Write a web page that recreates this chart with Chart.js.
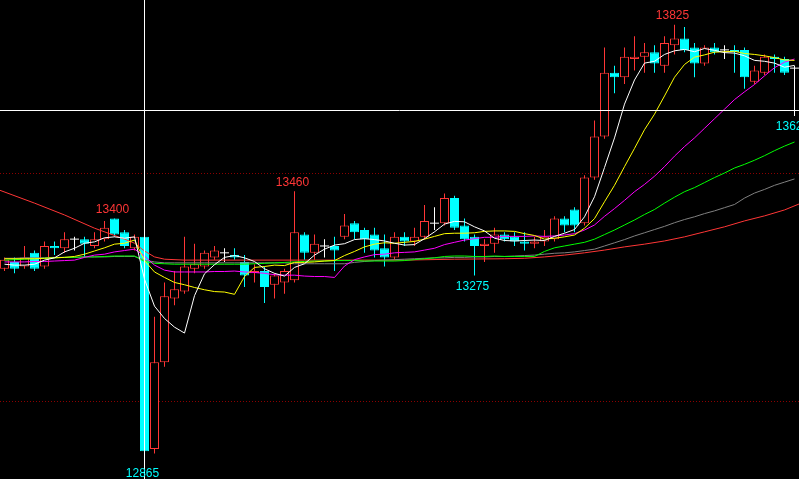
<!DOCTYPE html>
<html>
<head>
<meta charset="utf-8">
<script src="https://cdn.jsdelivr.net/npm/chart.js@4.4.1/dist/chart.umd.min.js"></script>
<style>
html,body{margin:0;padding:0;background:#000;overflow:hidden;}
</style>
</head>
<body>
<canvas id="kline" width="799" height="479"></canvas>
<script>
// candles, one per bar index 0..79
var openP  = [13290,13305,13295,13325,13295,13340,13335,13355,13355,13340,13355,13400,13370,13335,13360,12895,13085,13225,13240,13290,
              13295,13315,13325,13320,13305,13280,13285,13255,13260,13265,13365,13325,13340,13340,13360,13390,13375,13365,13335,13315,
              13360,13350,13360,13390,13390,13445,13385,13360,13340,13345,13365,13360,13350,13345,13350,13355,13400,13420,13390,13490,
              13580,13720,13710,13750,13755,13765,13735,13780,13795,13775,13740,13775,13770,13770,13770,13700,13720,13755,13750,13730];
var highP  = [13315,13315,13340,13330,13350,13350,13370,13360,13360,13370,13395,13400,13375,13365,13365,13185,13260,13285,13360,13345,
              13330,13340,13335,13335,13320,13300,13295,13280,13290,13460,13370,13365,13355,13360,13410,13395,13380,13380,13365,13370,
              13370,13380,13430,13425,13455,13450,13400,13365,13355,13380,13370,13370,13370,13360,13375,13405,13405,13425,13495,13615,
              13775,13735,13775,13800,13785,13780,13800,13825,13820,13785,13780,13785,13780,13780,13775,13735,13760,13760,13755,13735];
var lowP   = [13285,13280,13290,13285,13290,13320,13325,13330,13315,13335,13350,13360,13335,13330,12865,12885,13075,13210,13235,13280,
              13290,13310,13305,13310,13250,13260,13215,13225,13235,13260,13310,13310,13315,13285,13355,13355,13325,13315,13295,13310,
              13340,13340,13355,13375,13385,13375,13350,13275,13305,13325,13350,13340,13330,13335,13340,13350,13370,13370,13385,13485,
              13575,13675,13695,13725,13720,13720,13720,13760,13765,13710,13735,13760,13750,13720,13685,13695,13715,13720,13715,13625];
var closeP = [13310,13290,13315,13290,13340,13335,13355,13355,13345,13355,13380,13365,13340,13360,12890,13085,13230,13245,13295,13300,
              13325,13330,13325,13315,13275,13285,13250,13275,13285,13370,13325,13345,13340,13330,13385,13370,13355,13330,13315,13360,
              13350,13360,13395,13390,13445,13380,13355,13340,13345,13365,13355,13350,13345,13350,13360,13400,13385,13385,13490,13580,
              13720,13710,13755,13755,13765,13740,13785,13795,13770,13740,13775,13765,13770,13765,13710,13725,13755,13750,13720,13730];

// moving average lines
var ma5  = [13300,13298,13298,13300,13309,13314,13327,13335,13346,13349,13358,13360,13357,13360,13267,13208,13181,13162,13149,13231,
            13279,13299,13315,13319,13314,13306,13290,13280,13274,13293,13301,13320,13333,13342,13345,13354,13356,13354,13351,13346,
            13342,13343,13356,13371,13388,13394,13393,13382,13373,13357,13352,13351,13352,13353,13352,13361,13368,13376,13404,13448,
            13512,13577,13651,13704,13741,13745,13760,13768,13771,13766,13773,13769,13764,13763,13757,13747,13745,13741,13732,13736];
var ma10 = [13312,13312,13312,13312,13313,13314,13315,13317,13322,13329,13336,13344,13346,13353,13308,13283,13271,13260,13255,13249,
            13244,13240,13239,13234,13273,13293,13295,13298,13297,13304,13304,13305,13307,13308,13319,13328,13338,13344,13347,13346,
            13348,13350,13355,13361,13367,13368,13368,13369,13372,13373,13373,13372,13367,13363,13355,13357,13360,13364,13379,13400,
            13437,13473,13514,13554,13595,13629,13669,13710,13738,13754,13759,13765,13766,13767,13762,13760,13757,13753,13748,13747];
var ma20 = [13305,13305,13305,13306,13306,13307,13308,13309,13315,13320,13322,13327,13330,13333,13318,13298,13287,13283,13283,13283,
            13283,13284,13284,13285,13283,13282,13280,13277,13276,13276,13274,13273,13273,13271,13296,13310,13316,13321,13322,13325,
            13326,13327,13331,13335,13343,13348,13353,13356,13359,13359,13361,13361,13361,13362,13361,13362,13364,13367,13375,13386,
            13405,13422,13440,13459,13475,13493,13514,13537,13558,13577,13598,13619,13640,13661,13678,13694,13713,13731,13743,13750];
var ma40 = [13309,13310,13311,13312,13313,13314,13315,13315,13316,13316,13317,13318,13318,13318,13306,13302,13301,13300,13300,13300,
            13300,13300,13300,13300,13300,13301,13302,13303,13304,13305,13306,13307,13307,13308,13308,13308,13307,13307,13307,13307,
            13308,13310,13312,13314,13317,13318,13318,13317,13317,13318,13317,13317,13317,13317,13328,13336,13340,13344,13348,13355,
            13365,13375,13386,13397,13409,13420,13434,13447,13459,13468,13479,13490,13500,13511,13519,13528,13538,13549,13559,13568];
var ma60 = [13313,13313,13314,13314,13314,13315,13315,13315,13316,13316,13316,13317,13317,13317,13309,13305,13303,13303,13303,13303,
            13303,13303,13303,13303,13303,13303,13303,13303,13303,13301,13301,13301,13301,13301,13301,13304,13306,13308,13309,13310,
            13311,13312,13313,13314,13314,13315,13315,13316,13316,13317,13317,13318,13319,13320,13322,13324,13325,13327,13330,13333,
            13340,13347,13354,13362,13369,13376,13383,13391,13398,13404,13411,13417,13424,13431,13445,13456,13464,13473,13480,13487];
// slow red line, read at these bar indexes only
var ma80Idx = [-0.45,3,6,9,12,13,14,15,16,18,30,40,45,50,52,54,56,58,60,62,64,66,68,70,72,74,76,78,79.45];
var ma80    = [13462,13434,13408,13379,13355,13346,13329,13316,13311,13309,13309,13309,13311,13312,13313,13316,13320,13325,13331,13338,
               13344,13351,13360,13371,13382,13395,13406,13419,13432];

// high / low price marks
var markIdx   = [11,29,67,14,47,79];
var markPrice = [13400,13460,13825,12865,13275,13625];
var markHigh  = [true,true,true,false,false,false];

var gridLevels = [13000,13500];
var crossIdx = 14;
var crossPrice = 13637;

var UP = '#ff3636', DOWN = '#00ffff', FLAT = '#ffffff';

var wicks = [], bodies = [], dojis = [];
var wickColors = [], bodyFill = [], bodyLine = [];
for (var i = 0; i < closeP.length; i++) {
    var o = openP[i], c = closeP[i];
    var col = c > o ? UP : (c < o ? DOWN : FLAT);
    wicks.push({x: i, y: [lowP[i], highP[i]]});
    wickColors.push(col);
    if (c == o) {
        dojis.push({x: i, y: c});
        bodies.push({x: i, y: null});
    } else {
        bodies.push({x: i, y: [Math.min(o, c), Math.max(o, c)]});
    }
    bodyFill.push(c > o ? '#000000' : DOWN);
    bodyLine.push(col);
}

function maLine(vals, color, order) {
    return {
        type: 'line',
        data: vals.map(function (v, k) { return {x: k, y: v}; }),
        borderColor: color,
        borderWidth: 1,
        pointRadius: 0,
        tension: 0,
        order: order
    };
}

var overlay = {
    id: 'overlay',
    beforeDatasetsDraw: function (chart) {
        var ctx = chart.ctx, y = chart.scales.y, a = chart.chartArea;
        ctx.save();
        ctx.strokeStyle = '#8c0000';
        ctx.lineWidth = 1;
        ctx.setLineDash([1, 2]);
        gridLevels.forEach(function (v) {
            var py = Math.round(y.getPixelForValue(v)) + 0.5;
            ctx.beginPath();
            ctx.moveTo(a.left, py);
            ctx.lineTo(a.right, py);
            ctx.stroke();
        });
        ctx.restore();
    },
    afterDatasetsDraw: function (chart) {
        var ctx = chart.ctx, x = chart.scales.x, y = chart.scales.y, a = chart.chartArea;
        ctx.save();
        //crosshair
        ctx.strokeStyle = '#ffffff';
        ctx.lineWidth = 1;
        var cx = Math.floor(x.getPixelForValue(crossIdx)) + 0.5;
        var cy = Math.floor(y.getPixelForValue(crossPrice)) + 0.5;
        ctx.beginPath();
        ctx.moveTo(cx, a.top); ctx.lineTo(cx, a.bottom);
        ctx.moveTo(a.left, cy); ctx.lineTo(a.right, cy);
        ctx.stroke();
        //marks
        ctx.font = '12px "Liberation Sans", Arial, sans-serif';
        ctx.textAlign = 'center';
        ctx.textBaseline = 'middle';
        for (var m = 0; m < markIdx.length; m++) {
            var px = x.getPixelForValue(markIdx[m]) - 2;
            var py = y.getPixelForValue(markPrice[m]);
            ctx.fillStyle = markHigh[m] ? UP : DOWN;
            ctx.fillText(String(markPrice[m]), px, markHigh[m] ? py - 9 : py + 11);
        }
        ctx.restore();
    }
};

new Chart(document.getElementById('kline'), {
    type: 'bar',
    data: {
        datasets: [
            maLine(ma5, '#ffffff', 0),
            maLine(ma10, '#ffff00', 1),
            maLine(ma20, '#ff00ff', 2),
            maLine(ma40, '#00ff00', 3),
            maLine(ma60, '#808080', 4),
            {
                type: 'line',
                data: ma80Idx.map(function (k, n) { return {x: k, y: ma80[n]}; }),
                borderColor: UP, borderWidth: 1, pointRadius: 0, tension: 0, order: 5
            },
            {
                type: 'line',
                data: dojis,
                showLine: false,
                pointStyle: 'line',
                pointRadius: 4.5,
                pointBorderColor: FLAT,
                pointBorderWidth: 1,
                order: 6
            },
            {
                data: bodies,
                backgroundColor: bodyFill,
                borderColor: bodyLine,
                borderWidth: 1,
                borderSkipped: false,
                barThickness: 9,
                inflateAmount: 0,
                grouped: false,
                order: 7
            },
            {
                data: wicks,
                backgroundColor: wickColors,
                borderWidth: 0,
                barThickness: 1,
                inflateAmount: 0,
                grouped: false,
                order: 8
            }
        ]
    },
    options: {
        responsive: false,
        animation: false,
        layout: {padding: 0, autoPadding: false},
        plugins: {legend: {display: false}, tooltip: {enabled: false}},
        scales: {
            x: {type: 'linear', min: -0.45, max: 79.45, offset: false, display: false},
            y: {min: 12829, max: 13879.4, display: false}
        }
    },
    plugins: [overlay]
});
</script>
</body>
</html>
